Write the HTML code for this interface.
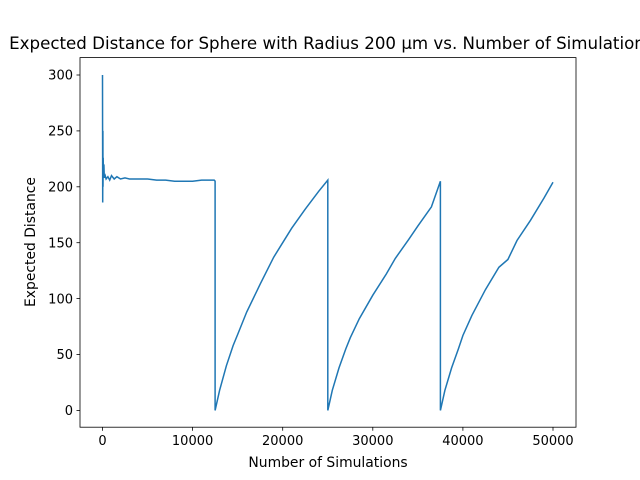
<!DOCTYPE html>
<html><head><meta charset="utf-8"><style>
body{margin:0;background:#fff;}
svg{display:block;font-family:"DejaVu Sans","Liberation Sans",sans-serif;}
</style></head><body>
<svg id="chart" width="640" height="480">
<rect width="640" height="480" fill="#fff"/>
<g id="plot"></g>
<rect x="80" y="57.6" width="496" height="369.6" fill="none" stroke="#000" stroke-width="0.8"/>
<g id="xt"></g><g id="yt"></g>
<text x="327" y="49" text-anchor="middle" font-size="16.67">Expected Distance for Sphere with Radius 200 µm vs. Number of Simulation</text>
<text x="328" y="467" text-anchor="middle" font-size="13.9">Number of Simulations</text>
<text transform="translate(35,242) rotate(-90)" text-anchor="middle" font-size="13.9">Expected Distance</text>
</svg>
<script>
const xValues=[0,20,40,60,80,100,150,200,300,400,600,800,1000,1300,1600,2000,2500,3000,4000,5000,6000,7000,8000,9000,10000,11000,12400,12500,12500,13000,13750,14500,15000,16000,17500,19000,20000,21000,22500,24000,25000,25000,25500,26250,27000,27500,28500,30000,31500,32500,34000,35000,36500,37500,37500,38000,38750,39500,40000,41000,42500,44000,45000,46000,47500,49000,50000];
const yValues=[300,186,250,200,226,212,220,208,210,207,209,206,210,207,209,207,208,207,207,207,206,206,205,205,205,206,206,205,0,18,40,58,68,88,113,137,150,163,180,196,206,0,18,38,55,65,82,103,122,136,153,165,182,205,0,18,38,55,67,85,108,128,135,152,170,190,204];
const xTicks=[0,10000,20000,30000,40000,50000];
const yTicks=[0,50,100,150,200,250,300];
const X=v=>102.5+(v)*(553-102.5)/50000;
const Y=v=>410.4-v*(410.4-75)/300;
const ns="http://www.w3.org/2000/svg";
const plot=document.getElementById('plot');
let d=xValues.map((x,i)=>(i?'L':'M')+X(x).toFixed(1)+','+Y(yValues[i]).toFixed(1)).join('');
const p=document.createElementNS(ns,'path');
p.setAttribute('d',d);p.setAttribute('fill','none');p.setAttribute('stroke','#1f77b4');p.setAttribute('stroke-width','1.5');


plot.appendChild(p);
const xt=document.getElementById('xt'),yt=document.getElementById('yt');
xTicks.forEach(t=>{const g=document.createElementNS(ns,'g');


g.innerHTML=`<line x1="${X(t)}" x2="${X(t)}" y1="427.2" y2="430.7" stroke="#000" stroke-width="0.8"/><text x="${X(t)}" y="445" text-anchor="middle" font-size="13">${t}</text>`;xt.appendChild(g);});
yTicks.forEach(t=>{const g=document.createElementNS(ns,'g');


g.innerHTML=`<line x1="76.5" x2="80" y1="${Y(t)}" y2="${Y(t)}" stroke="#000" stroke-width="0.8"/><text x="73" y="${Y(t)+4.7}" text-anchor="end" font-size="13">${t}</text>`;yt.appendChild(g);});
</script>
</body></html>
